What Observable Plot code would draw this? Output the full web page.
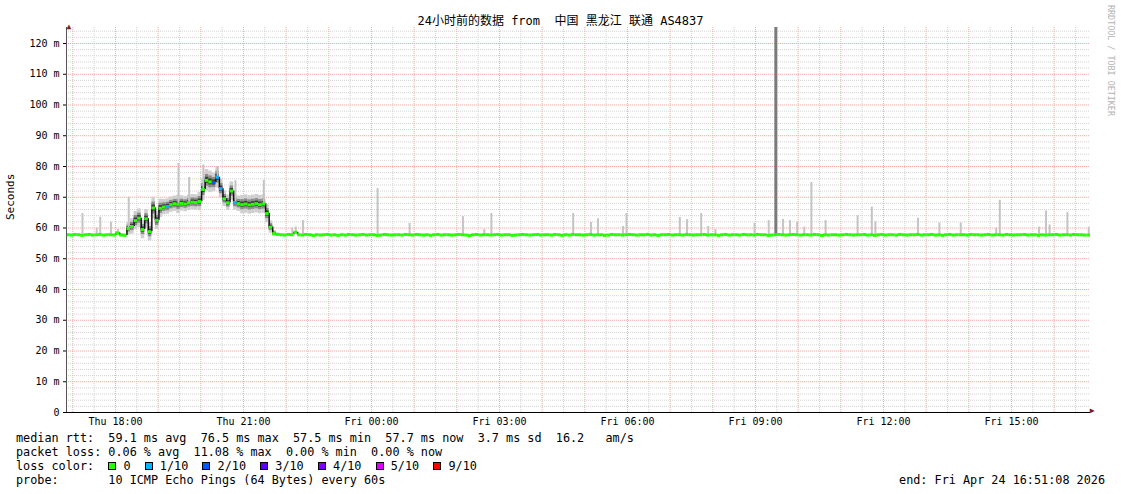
<!DOCTYPE html>
<html>
<head>
<meta charset="utf-8">
<script src="https://cdn.jsdelivr.net/npm/d3@7"></script>
<script src="https://cdn.jsdelivr.net/npm/@observablehq/plot@0.6"></script>
<style>
  html, body { margin: 0; padding: 0; background: #fff; }
  #wrap { position: relative; width: 1121px; height: 494px; overflow: hidden; background: #fff;
          font-family: "DejaVu Sans Mono", monospace; color: #000; }
  #chart { position: absolute; left: 0; top: 0; }
  #title { position: absolute; left: 0; top: 13px; width: 1121px; text-align: center; white-space: pre;
           font-family: "DejaVu Sans Mono", "Noto Sans CJK SC", monospace; font-size: 12px; line-height: 16px; }
  #rrd { position: absolute; left: 1105px; top: 5px; writing-mode: vertical-rl; font-size: 8.4px;
         line-height: 11px; color: #b4b4b4; white-space: pre; }
  .lg { position: absolute; left: 16px; font-size: 11.8px; line-height: 14px; white-space: pre; }
  .box { display: inline-block; width: 6px; height: 6px; border: 1px solid #000; vertical-align: -0px; }
  #endtxt { position: absolute; right: 16px; top: 473px; font-size: 11.8px; line-height: 14px; white-space: pre; }
</style>
</head>
<body>
<div id="wrap">
  <div id="chart"></div>
  <div id="title">24小时前的数据 from  中国 黑龙江 联通 AS4837</div>
  <div id="rrd">RRDTOOL / TOBI OETIKER</div>
  <div class="lg" id="l1" style="top:431px"></div>
  <div class="lg" id="l2" style="top:445px"></div>
  <div class="lg" id="l3" style="top:459px"></div>
  <div class="lg" id="l4" style="top:473px"></div>
  <div id="endtxt"></div>
</div>
<script>
// ---------------- data ----------------
const startTime = "2026-04-23T16:51:08Z";
const endTime = "2026-04-24T16:51:08Z";
const stepMinutes = 5;

const xTickTimes = ["2026-04-23T18:00:00Z", "2026-04-23T21:00:00Z", "2026-04-24T00:00:00Z", "2026-04-24T03:00:00Z",
                    "2026-04-24T06:00:00Z", "2026-04-24T09:00:00Z", "2026-04-24T12:00:00Z", "2026-04-24T15:00:00Z"];
const yTicks = [0, 10, 20, 30, 40, 50, 60, 70, 80, 90, 100, 110, 120];

// median RTT (ms), one value per 5 minutes, one row per hour, from Thu 16:51
const medianRtt = [
  57.8, 57.7, 57.9, 57.8, 57.6, 57.8, 57.9, 57.7, 57.8, 57.9, 57.7, 57.8,
  57.8, 57.7, 58.3, 57.7, 57.6, 59.8, 60.5, 62.4, 63.2, 59.5, 63.0, 58.8,
  66.5, 62.5, 66.4, 66.8, 67.0, 67.6, 67.9, 67.7, 68.0, 67.8, 68.2, 68.4,
  68.3, 68.6, 72.5, 75.5, 75.0, 74.8, 76.5, 72.8, 69.5, 68.2, 72.0, 68.3,
  67.9, 67.6, 67.8, 67.5, 67.7, 67.9, 67.6, 67.8, 64.7, 60.3, 58.2, 57.9,
  57.8, 57.7, 57.9, 57.8, 58.6, 57.8, 57.7, 57.9, 57.8, 57.6, 57.8, 57.7,
  57.8, 57.9, 57.7, 57.8, 57.6, 57.8, 57.7, 57.9, 57.8, 57.7, 57.8, 57.9,
  57.7, 57.8, 57.8, 57.6, 57.7, 57.9, 57.8, 57.7, 57.8, 57.8, 57.7, 57.9,
  57.8, 57.7, 57.9, 57.8, 57.7, 57.8, 57.6, 57.8, 57.9, 57.7, 57.8, 57.8,
  57.7, 57.8, 57.9, 57.8, 57.7, 57.5, 57.8, 57.9, 57.7, 57.8, 57.8, 57.7,
  57.8, 57.9, 57.7, 57.8, 57.8, 57.6, 57.7, 57.8, 57.9, 57.8, 57.7, 57.8,
  57.9, 57.7, 57.8, 57.8, 57.7, 57.9, 57.8, 57.6, 57.8, 57.7, 57.9, 57.8,
  57.8, 57.7, 57.8, 57.9, 57.7, 57.8, 57.8, 57.6, 57.7, 57.9, 57.8, 57.8,
  57.7, 57.8, 57.9, 57.8, 57.7, 57.8, 57.8, 57.9, 57.7, 57.8, 57.6, 57.8,
  57.8, 57.9, 57.7, 57.8, 57.8, 57.7, 57.9, 57.8, 57.7, 57.8, 57.8, 57.9,
  57.7, 57.8, 57.8, 57.6, 57.8, 57.9, 57.7, 57.8, 57.8, 57.7, 57.9, 57.8,
  57.8, 57.7, 57.9, 57.8, 57.8, 57.6, 57.7, 57.8, 57.9, 57.8, 57.7, 57.8,
  57.9, 57.8, 57.7, 57.8, 57.8, 57.7, 57.9, 57.8, 57.6, 57.8, 57.7, 57.8,
  57.8, 57.7, 57.8, 57.9, 57.8, 57.7, 57.8, 57.8, 57.9, 57.7, 57.8, 57.6,
  57.8, 57.9, 57.7, 57.8, 57.8, 57.7, 57.9, 57.8, 57.7, 57.8, 57.8, 57.9,
  57.7, 57.8, 57.8, 57.9, 57.7, 57.8, 57.6, 57.8, 57.9, 57.7, 57.8, 57.8,
  57.8, 57.7, 57.9, 57.8, 57.8, 57.7, 57.8, 57.9, 57.7, 57.8, 57.8, 57.7,
  57.9, 57.8, 57.7, 57.8, 57.8, 57.9, 57.7, 57.8, 57.8, 57.6, 57.8, 57.7,
  57.8, 57.8, 57.9, 57.7, 57.8, 57.8, 57.7, 57.9, 57.8, 57.8, 57.7, 57.7
];

// packet loss (in tenths) at the steps that lost pings
const lossIdx = [28, 41, 42, 43, 47];
const lossLevel = [1, 2, 1, 1, 1];

// smoke half-spread (ms) for the busy evening window, starting at step smokeStart
const smokeStart = 12;
const smokeSpread = [
  0.3, 0.3, 0.6, 0.4, 0.5, 2.0, 2.5, 3.0, 3.0, 3.0, 3.0, 3.0,
  3.5, 3.0, 3.0, 2.5, 2.5, 2.5, 2.5, 3.0, 2.5, 2.5, 2.5, 2.5,
  2.5, 3.0, 3.5, 3.5, 3.5, 3.0, 3.5, 3.0, 2.5, 2.5, 3.0, 2.5,
  2.5, 3.0, 3.0, 3.0, 3.0, 3.0, 3.0, 3.0, 3.0, 2.0, 1.0, 0.5
];

// outlier pings (light smoke): step index and highest ping (ms)
const spikeIdx = [4, 8, 9, 12, 14, 17, 31, 34, 38, 42, 47, 55, 63, 64, 66, 87, 96, 111, 117, 119,
                  142, 147, 149, 156, 157, 172, 174, 178, 180, 182, 193, 197, 201, 203, 205, 207, 209, 213,
                  222, 226, 227, 239, 245, 251, 261, 262, 273, 275, 276, 281, 287];
const spikeTop = [64.7, 60.0, 63.5, 61.9, 59.5, 70.0, 81.0, 76.4, 80.5, 80.0, 75.4, 75.5, 60.0, 60.3, 62.4, 72.8, 61.5, 63.7, 59.5, 64.7,
                  64.7, 61.8, 63.0, 60.5, 64.7, 63.4, 62.7, 64.7, 60.5, 59.5, 61.5, 62.4, 62.8, 62.4, 61.9, 60.3, 74.8, 62.4,
                  64.0, 66.8, 62.0, 63.2, 61.6, 61.6, 60.0, 69.0, 60.3, 65.5, 61.0, 65.0, 60.3];

// burst of several high pings (dark smoke)
const burstIdx = [199];
const burstTop = [125.2];

// loss colour legend
const lossLevels = [0, 1, 2, 3, 4, 5, 9];
const lossLabels = ["0", "1/10", "2/10", "3/10", "4/10", "5/10", "9/10"];
const lossColors = ["#26ff00", "#00b8ff", "#0059ff", "#5e00ff", "#7e00ff", "#dd00ff", "#ff0000"];

// statistics
const statNames = ["avg", "max", "min", "now"];
const rttStats = [59.1, 76.5, 57.5, 57.7];
const rttSd = 3.7;
const rttAmPerSec = 16.2;
const lossStats = [0.06, 11.08, 0.00, 0.00];
const probeText = "10 ICMP Echo Pings (64 Bytes) every 60s";
const endText = "Fri Apr 24 16:51:08 2026";

// ---------------- build ----------------
const start = new Date(startTime), end = new Date(endTime);
const step = stepMinutes * 60000;
const rows = medianRtt.map((v, i) => ({
  t0: new Date(+start + i * step),
  t1: new Date(+start + (i + 1) * step),
  tc: new Date(+start + (i + 0.5) * step),
  v, prev: i > 0 ? medianRtt[i - 1] : v, loss: 0
}));
lossIdx.forEach((k, j) => { rows[k].loss = lossLevel[j]; });
const colorOf = l => lossColors[lossLevels.indexOf(l)];
const smoke = smokeSpread.map((s, j) => Object.assign({}, rows[smokeStart + j], {s}));
const spikes = spikeIdx.map((k, j) => ({t: rows[k].tc, lo: rows[k].v, hi: spikeTop[j]}));
const bursts = burstIdx.map((k, j) => ({t: rows[k].tc, lo: rows[k].v, hi: burstTop[j]}));
const xTicks = xTickTimes.map(s => new Date(s));

const hours = d3.utcHour.range(start, end);
const halfHours = d3.utcMinute.every(30).range(start, end).filter(d => d.getUTCMinutes() === 30);
const minorY = d3.range(2, 126, 2).filter(d => d % 10 !== 0);
const majorY = yTicks.filter(d => d > 0);

const dot = "1,1";
const chart = Plot.plot({
  width: 1121, height: 430,
  marginLeft: 66, marginRight: 31, marginTop: 27, marginBottom: 18,
  x: {type: "utc", domain: [start, end]},
  y: {domain: [0, 125.2], clamp: true},
  color: {type: "identity"},
  style: {fontFamily: "'DejaVu Sans Mono', monospace", fontSize: "10px", background: "#fff", color: "#000", overflow: "visible"},
  marks: [
    Plot.ruleY(minorY, {stroke: "#d2d2d2", strokeDasharray: dot}),
    Plot.ruleX(halfHours, {stroke: "#d2d2d2", strokeDasharray: dot}),
    Plot.ruleY(majorY, {stroke: "#f5a9a9", strokeDasharray: dot}),
    Plot.ruleX(hours, {stroke: "#f5a9a9", strokeDasharray: dot}),
    // smoke
    Plot.rect(smoke, {x1: "t0", x2: "t1", y1: d => d.v - d.s, y2: d => d.v + d.s, fill: "#cfcfcf"}),
    Plot.rect(smoke, {x1: "t0", x2: "t1", y1: d => d.v - d.s * 0.55, y2: d => d.v + d.s * 0.55, fill: "#8c8c8c"}),
    Plot.rect(smoke, {x1: "t0", x2: "t1", y1: d => d.v - d.s * 0.28, y2: d => d.v + d.s * 0.28, fill: "#3c3c3c"}),
    Plot.ruleX(spikes, {x: "t", y1: "lo", y2: "hi", stroke: "#c4c4c4", strokeWidth: 2}),
    Plot.ruleX(bursts, {x: "t", y1: "lo", y2: "hi", stroke: "#7a7a7a", strokeWidth: 3}),
    // median
    Plot.ruleX(rows.slice(1), {x: "t0", y1: "prev", y2: "v", stroke: "#111", strokeWidth: 1.5}),
    Plot.ruleY(rows, {y: "v", x1: "t0", x2: "t1", stroke: d => colorOf(d.loss), strokeWidth: 3}),
    // axes
    Plot.ruleX([start], {stroke: "#555"}),
    Plot.ruleY([0], {stroke: "#000"}),
    Plot.text(["▲"], {text: d => d, frameAnchor: "top-left", dy: -4, fill: "#7a1e1e", fontSize: 8}),
    Plot.text(["▶"], {text: d => d, frameAnchor: "bottom-right", dx: 4, fill: "#7a1e1e", fontSize: 8}),
    Plot.axisX({ticks: xTicks, tickFormat: d3.utcFormat("%a %H:%M"), tickSize: 0, tickPadding: 5, label: null}),
    Plot.axisY({ticks: yTicks, tickFormat: d => d === 0 ? "0" : d + " m", tickSize: 3, tickPadding: 4, label: null}),
    Plot.text(["Seconds"], {text: d => d, frameAnchor: "left", dx: -56, rotate: -90, fontSize: 11})
  ]
});
document.getElementById("chart").appendChild(chart);

// legend
document.getElementById("l1").textContent = "median rtt:  " +
  rttStats.map((v, i) => `${v.toFixed(1)} ms ${statNames[i]}`).join("  ") +
  `  ${rttSd.toFixed(1)} ms sd  ${rttAmPerSec.toFixed(1)}   am/s`;
document.getElementById("l2").textContent = "packet loss: " +
  lossStats.map((v, i) => `${v.toFixed(2)} % ${statNames[i]}`).join("  ");
const l3 = document.getElementById("l3");
l3.appendChild(document.createTextNode("loss color:  "));
lossLabels.forEach((lab, i) => {
  const b = document.createElement("span");
  b.className = "box";
  b.style.background = lossColors[i];
  l3.appendChild(b);
  l3.appendChild(document.createTextNode(" " + lab + (i < lossLabels.length - 1 ? "  " : "")));
});
document.getElementById("l4").textContent = "probe:       " + probeText;
document.getElementById("endtxt").textContent = "end: " + endText;
</script>
</body>
</html>
